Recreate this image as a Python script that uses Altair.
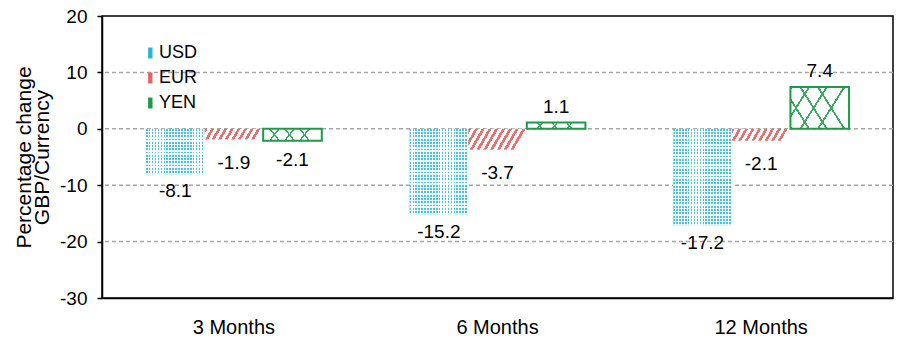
import altair as alt
import pandas as pd

periods = ["3 Months", "6 Months", "12 Months"]
currencies = ["USD", "EUR", "YEN"]
usd = [-8.1, -15.2, -17.2]
eur = [-1.9, -3.7, -2.1]
yen = [-2.1, 1.1, 7.4]
grid_values = [-20, -10, 0, 10]
tick_values = [-30, -20, -10, 0, 10, 20]

rows = []
for cur, vals in zip(currencies, [usd, eur, yen]):
    for p, v in zip(periods, vals):
        rows.append({"period": p, "currency": cur, "value": v, "label": f"{v:.1f}"})
df = pd.DataFrame(rows)
grid_df = pd.DataFrame({"g": grid_values})

NARROW = "Liberation Sans Narrow, Arial Narrow, Liberation Sans"
WIDE = "Liberation Sans, Arial"

# ---- pattern styles (gradients used as hatching) ----
def stripes(color, bg, n, frac, x1=0.0, y1=0.0, x2=1.0, y2=0.0):
    stops = []
    for i in range(n):
        a, b, c = i / n, (i + frac) / n, (i + 1) / n
        stops += [{"offset": a, "color": color}, {"offset": b, "color": color},
                  {"offset": b, "color": bg}, {"offset": c, "color": bg}]
    return {"gradient": "linear", "x1": x1, "y1": y1, "x2": x2, "y2": y2, "stops": stops}

CLEAR = "rgba(255,255,255,0)"
eur_slant = {"3 Months": 0.105, "6 Months": 0.206, "12 Months": 0.116}
yen_slant = {"3 Months": 0.16, "6 Months": 0.09, "12 Months": 0.45}
usd_rows = {"3 Months": 14, "6 Months": 26, "12 Months": 29}
label_dy = {"USD": 17, "EUR": 23, "YEN": 19}


def per_period_fill(make):
    conds = [{"test": f"datum.period === '{p}'", "value": make(p)} for p in periods[:-1]]
    return {"condition": conds, "value": make(periods[-1])}


x_enc = alt.X("period:N", sort=periods,
              scale=alt.Scale(domain=periods, paddingInner=0.333, paddingOuter=0.1667),
              axis=alt.Axis(title=None, ticks=False, labelAngle=0, labelPadding=19,
                            labelFont=NARROW, labelFontSize=20, labelColor="black",
                            domainColor="black", domainWidth=1.5))
xo_enc = alt.XOffset("currency:N", sort=currencies,
                     scale=alt.Scale(domain=currencies, paddingInner=0, paddingOuter=0))
y_enc = alt.Y("value:Q", scale=alt.Scale(domain=[-30, 20], nice=False, zero=True),
              axis=alt.Axis(values=tick_values, grid=False, labelExpr="'' + datum.value",
                            title=["Percentage change", "GBP/Currency"],
                            titleFont=WIDE, titleFontSize=21, titleFontWeight="normal",
                            titleColor="black", titleLineHeight=18, titlePadding=7,
                            labelFont=NARROW, labelFontSize=19, labelColor="black",
                            labelPadding=10, tickColor="black", tickSize=5, tickWidth=1.5,
                            domainColor="black", domainWidth=1.5))

base = alt.Chart(df)

grid = alt.Chart(grid_df).mark_rule(color="#a6a6a6", strokeWidth=1.5, strokeDash=[4, 3]).encode(
    y=alt.Y("g:Q", scale=alt.Scale(domain=[-30, 20], nice=False))
)

legend_layer = base.mark_bar(opacity=0).encode(
    x=x_enc, xOffset=xo_enc, y=y_enc,
    color=alt.Color("currency:N", sort=currencies,
                    scale=alt.Scale(domain=currencies, range=["#2bb5d1", "#e06666", "#1e9a48"]),
                    legend=alt.Legend(title=None, orient="none", legendX=36, legendY=28,
                                      symbolType="M0.2,-1H1V1H0.2Z", symbolSize=121,
                                      symbolOpacity=1, symbolStrokeWidth=0,
                                      labelFont=NARROW, labelFontSize=18, labelColor="black",
                                      labelOffset=3, rowPadding=7)),
)

usd_layer = base.transform_filter("datum.currency === 'USD'").mark_bar(
    fill=stripes("#4fc3db", "#ffffff", 20, 0.55)
).encode(x=x_enc, xOffset=xo_enc, y=y_enc)
usd_dots = base.transform_filter("datum.currency === 'USD'").mark_bar().encode(
    x=x_enc, xOffset=xo_enc, y=y_enc,
    fill=per_period_fill(lambda p: stripes(CLEAR, "rgba(255,255,255,0.85)", usd_rows[p], 0.55,
                                           0, 0, 0, 1.0)),
)

eur_layer = base.transform_filter("datum.currency === 'EUR'").mark_bar().encode(
    x=x_enc, xOffset=xo_enc, y=y_enc,
    fill=per_period_fill(lambda p: stripes("#e57373", "#ffffff", 9, 0.45, 0, 0, 1.0, eur_slant[p])),
)

yen_a = base.transform_filter("datum.currency === 'YEN'").mark_bar().encode(
    x=x_enc, xOffset=xo_enc, y=y_enc,
    fill=per_period_fill(lambda p: stripes("#3fa862", "#ffffff", 4, 0.12, 0, 0, 1.0, yen_slant[p])),
)
yen_b = base.transform_filter("datum.currency === 'YEN'").mark_bar(
    stroke="#1e9a48", strokeWidth=2
).encode(
    x=x_enc, xOffset=xo_enc, y=y_enc,
    fill=per_period_fill(lambda p: stripes("#3fa862", CLEAR, 4, 0.12, 0, 1.0, 1.0, 1.0 - yen_slant[p])),
)

text_layers = []
for cur in currencies:
    sub = base.transform_filter(f"datum.currency === '{cur}'")
    text_layers.append(sub.transform_filter("datum.value < 0").mark_text(
        font=NARROW, fontSize=19, color="black", baseline="middle", dy=label_dy[cur]
    ).encode(x=x_enc, xOffset=xo_enc, y=y_enc, text="label:N"))
text_pos = base.transform_filter("datum.value >= 0").mark_text(
    font=NARROW, fontSize=19, color="black", baseline="middle", dy=-16
).encode(x=x_enc, xOffset=xo_enc, y=y_enc, text="label:N")

chart = alt.layer(grid, legend_layer, usd_layer, usd_dots, eur_layer, yen_a, yen_b,
                  *text_layers, text_pos).properties(
    width=791, height=282, autosize="none",
    padding={"left": 102, "top": 16, "right": 4, "bottom": 44},
    background="white",
).configure_view(stroke="black", strokeWidth=1.5)

chart.save("out.html", embed_options={"renderer": "svg", "actions": False})
